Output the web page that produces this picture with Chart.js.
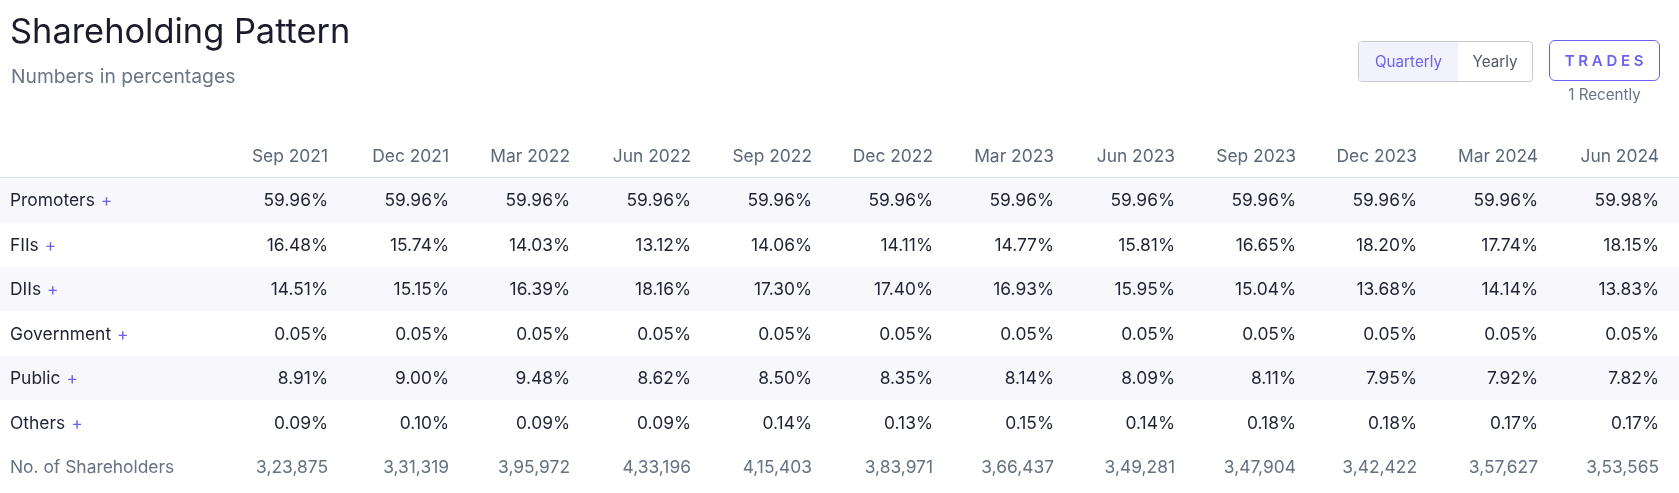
<!DOCTYPE html>
<html>
<head>
<meta charset="utf-8">
<script src="https://cdn.jsdelivr.net/npm/chart.js@4"></script>
<style>
  html, body { margin: 0; padding: 0; background: #fff; font-family: Inter, "Noto Sans", sans-serif; }
  #wrap { position: relative; width: 1679px; height: 493px; overflow: hidden; }
  #c { position: absolute; left: 0; top: 0; }
  .title { position: absolute; left: 10px; top: 14px; font-size: 34.4px; line-height: 1; color: #1b1b2b; font-weight: 400; }
  .sub { position: absolute; left: 11px; top: 67px; font-size: 19.3px; line-height: 1; color: #6a7485; }
  .seg { position: absolute; left: 1358px; top: 41px; width: 173px; height: 39px; border: 1px solid #c9cacf; border-radius: 4px; overflow: hidden; display: flex; font-size: 15.2px; }
  .seg div { display: flex; align-items: center; justify-content: center; }
  .seg .q { width: 99px; background: #f2f2fd; color: #6c61f0; }
  .seg .y { flex: 1; color: #505565; }
  .trades { position: absolute; left: 1549px; top: 40px; width: 106px; height: 39px; border: 1.5px solid #6c61f0; border-radius: 6px; display: flex; align-items: center; justify-content: center; color: #6c61f0; font-size: 15px; font-weight: 600; letter-spacing: 3.7px; padding-left: 3px; box-sizing: content-box; }
  .recent { position: absolute; left: 1549px; width: 111px; top: 86px; line-height: 1.2; text-align: center; font-size: 15.2px; color: #6a7485; }
</style>
</head>
<body>
<div id="wrap">
  <canvas id="c" width="1679" height="493"></canvas>
  <div class="title">Shareholding Pattern</div>
  <div class="sub">Numbers in percentages</div>
  <div class="seg"><div class="q">Quarterly</div><div class="y">Yearly</div></div>
  <div class="trades">TRADES</div>
  <div class="recent">1 Recently</div>
</div>
<script>
const periods = ["Sep 2021","Dec 2021","Mar 2022","Jun 2022","Sep 2022","Dec 2022","Mar 2023","Jun 2023","Sep 2023","Dec 2023","Mar 2024","Jun 2024"];
const rowNames = ["Promoters","FIIs","DIIs","Government","Public","Others","No. of Shareholders"];
const promoters = [59.96,59.96,59.96,59.96,59.96,59.96,59.96,59.96,59.96,59.96,59.96,59.98];
const fiis = [16.48,15.74,14.03,13.12,14.06,14.11,14.77,15.81,16.65,18.20,17.74,18.15];
const diis = [14.51,15.15,16.39,18.16,17.30,17.40,16.93,15.95,15.04,13.68,14.14,13.83];
const government = [0.05,0.05,0.05,0.05,0.05,0.05,0.05,0.05,0.05,0.05,0.05,0.05];
const publicHold = [8.91,9.00,9.48,8.62,8.50,8.35,8.14,8.09,8.11,7.95,7.92,7.82];
const others = [0.09,0.10,0.09,0.09,0.14,0.13,0.15,0.14,0.18,0.18,0.17,0.17];
const shareholders = [323875,331319,395972,433196,415403,383971,366437,349281,347904,342422,357627,353565];

const rows = [promoters, fiis, diis, government, publicHold, others, shareholders];

function fmtIndian(n) {
  const s = String(n);
  if (s.length <= 3) return s;
  const last3 = s.slice(-3);
  let rest = s.slice(0, -3);
  const parts = [];
  while (rest.length > 2) { parts.unshift(rest.slice(-2)); rest = rest.slice(0, -2); }
  if (rest.length) parts.unshift(rest);
  return parts.join(",") + "," + last3;
}

const FS = 17.4;
const FONT = FS + 'px Inter, "Noto Sans", sans-serif';
const BOFF = FS * 0.36;

const tablePlugin = {
  id: 'tablePlugin',
  beforeDatasetsDraw(chart) {
    const ctx = chart.ctx;
    const x = chart.scales.x, y = chart.scales.y;
    ctx.save();
    ctx.fillStyle = '#f7f7fc';
    for (let r = 0; r < rowNames.length; r++) {
      if (r % 2 === 0 && r < rowNames.length - 1) {
        const t = y.getPixelForValue(r), b = y.getPixelForValue(r + 1);
        ctx.fillRect(0, t, chart.width, b - t);
      }
    }
    const hl = Math.round(y.getPixelForValue(0)) + 0.5;
    ctx.strokeStyle = '#d6e2f2';
    ctx.lineWidth = 1;
    ctx.beginPath(); ctx.moveTo(0, hl - 1); ctx.lineTo(chart.width, hl - 1); ctx.stroke();
    ctx.font = FONT;
    ctx.fillStyle = '#5b6677';
    ctx.textAlign = 'right';
    ctx.textBaseline = 'alphabetic';
    const hy = y.getPixelForValue(-0.5);
    periods.forEach((p, i) => ctx.fillText(p, x.getPixelForValue(i), hy + BOFF));
    ctx.textAlign = 'left';
    rowNames.forEach((name, r) => {
      const cy = y.getPixelForValue(r + 0.5) + BOFF;
      ctx.font = FONT;
      const last = r === rowNames.length - 1;
      ctx.fillStyle = last ? '#667182' : '#1f2333';
      ctx.fillText(name, 10, cy);
      if (!last) {
        const w = ctx.measureText(name).width;
        ctx.fillStyle = '#6c61f0';
        ctx.fillText('+', 10 + w + 6, cy);
      }
    });
    ctx.restore();
  },
  afterDatasetsDraw(chart) {
    const ctx = chart.ctx;
    ctx.save();
    ctx.font = FONT;
    ctx.textAlign = 'right';
    ctx.textBaseline = 'alphabetic';
    chart.data.datasets.forEach((ds, r) => {
      const meta = chart.getDatasetMeta(r);
      ctx.fillStyle = r === rows.length - 1 ? '#667182' : '#1f2333';
      meta.data.forEach((pt, i) => {
        const v = rows[r][i];
        const txt = r === rows.length - 1 ? fmtIndian(v) : v.toFixed(2) + '%';
        ctx.fillText(txt, pt.x, pt.y + BOFF);
      });
    });
    ctx.restore();
  }
};

new Chart(document.getElementById('c'), {
  type: 'scatter',
  data: {
    datasets: rows.map((vals, r) => ({
      label: rowNames[r],
      data: vals.map((v, i) => ({ x: i, y: r + 0.5 })),
      pointRadius: 0,
      pointHoverRadius: 0,
      showLine: false
    }))
  },
  options: {
    responsive: false,
    animation: false,
    devicePixelRatio: 1,
    events: [],
    layout: { padding: { left: 328, right: 20, top: 178, bottom: 4 } },
    plugins: { legend: { display: false }, tooltip: { enabled: false } },
    scales: {
      x: { type: 'linear', min: 0, max: 11, display: false },
      y: { type: 'linear', min: 0, max: 7, reverse: true, display: false }
    }
  },
  plugins: [tablePlugin]
});
</script>
</body>
</html>
